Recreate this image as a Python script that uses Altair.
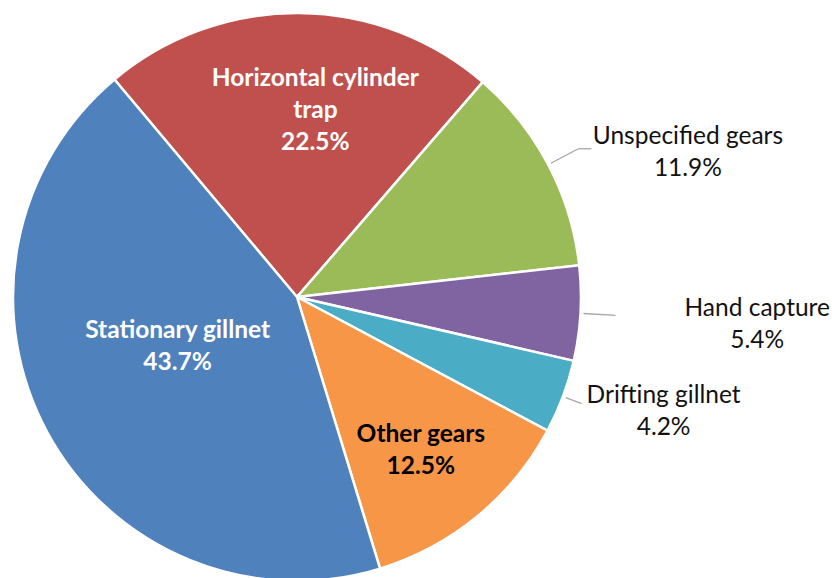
import math
import altair as alt
import pandas as pd

# ---- data ----
categories = ["Horizontal cylinder trap", "Unspecified gears", "Hand capture",
              "Drifting gillnet", "Other gears", "Stationary gillnet"]
shares = [22.5, 11.9, 5.4, 4.2, 12.5, 43.7]
label_names = ["Horizontal cylinder\ntrap", "Unspecified gears", "Hand capture",
               "Drifting gillnet", "Other gears", "Stationary gillnet"]
colors = ["#C0504D", "#9BBB59", "#8064A2", "#4BACC6", "#F79646", "#4F81BD"]

df = pd.DataFrame({
    "category": categories,
    "share": shares,
    "idx": list(range(len(categories))),
    "label": [f"{n}\n{s:.1f}%" for n, s in zip(label_names, shares)],
})

# ---- layout ----
W, H = 824, 570
CX, CY = 289, 289
R = 284
START = math.radians(-40)
FONT = "Lato"
FS = 24.5
LH = 32

label_style = {
    "Horizontal cylinder trap": dict(r=187, dx=17, dy=1 - LH, color="white", weight="bold"),
    "Unspecified gears": dict(r=417, dx=22, dy=50 - LH / 2, color="#111111", weight="normal"),
    "Hand capture": dict(r=468, dx=-7, dy=1 - LH / 2, color="#111111", weight="normal"),
    "Drifting gillnet": dict(r=384, dx=7, dy=-20 - LH / 2, color="#111111", weight="normal"),
    "Other gears": dict(r=198, dx=-2, dy=1 - LH / 2, color="#000000", weight="bold"),
    "Stationary gillnet": dict(r=129, dx=-6, dy=-12 - LH / 2, color="white", weight="bold"),
}
leaders = {
    "Unspecified gears": dict(r1=287, r2=318, tail=13),
    "Hand capture": dict(r1=287, r2=319, tail=0),
    "Drifting gillnet": dict(r1=287, r2=304, tail=0),
}

arcs = alt.Chart(df).mark_arc(radius=R, stroke="white", strokeWidth=2.5).encode(
    theta=alt.Theta("share:Q", stack=True,
                    scale=alt.Scale(range=[START, START + 2 * math.pi])),
    color=alt.Color("category:N", legend=None,
                    scale=alt.Scale(domain=categories, range=colors)),
    order=alt.Order("idx:Q"),
    x=alt.value(CX),
    y=alt.value(CY),
)

base = alt.Chart(df).transform_window(
    cum="sum(share)", sort=[alt.SortField("idx")], frame=[None, 0]
).transform_joinaggregate(total="sum(share)").transform_calculate(
    mid=f"{START} + 2*PI*(datum.cum - datum.share/2)/datum.total"
)

layers = [arcs]
for cat, st in label_style.items():
    t = base.transform_filter(alt.datum.category == cat).transform_calculate(
        tx=f"{CX} + {st['r']}*sin(datum.mid) + {st['dx']}",
        ty=f"{CY} - {st['r']}*cos(datum.mid) + {st['dy']}",
    ).mark_text(
        font=FONT, fontSize=FS, fontWeight=st["weight"], color=st["color"],
        lineBreak="\n", lineHeight=LH, align="center", baseline="middle",
    ).encode(
        x=alt.X("tx:Q", scale=None, axis=None),
        y=alt.Y("ty:Q", scale=None, axis=None),
        text="label:N",
    )
    layers.append(t)

for cat, ld in leaders.items():
    rl = base.transform_filter(alt.datum.category == cat).transform_calculate(
        x1=f"{CX} + {ld['r1']}*sin(datum.mid)",
        y1=f"{CY} - {ld['r1']}*cos(datum.mid)",
        x2=f"{CX} + {ld['r2']}*sin(datum.mid)",
        y2=f"{CY} - {ld['r2']}*cos(datum.mid)",
    )
    layers.append(rl.mark_rule(color="#A6A6A6", strokeWidth=1.3).encode(
        x=alt.X("x1:Q", scale=None, axis=None),
        y=alt.Y("y1:Q", scale=None, axis=None),
        x2="x2:Q", y2="y2:Q",
    ))
    if ld["tail"]:
        layers.append(rl.transform_calculate(x3=f"datum.x2 + {ld['tail']}").mark_rule(
            color="#A6A6A6", strokeWidth=1.3).encode(
            x=alt.X("x2:Q", scale=None, axis=None),
            y=alt.Y("y2:Q", scale=None, axis=None),
            x2="x3:Q", y2="y2:Q",
        ))

chart = alt.layer(*layers).properties(
    width=W, height=H, padding=0, autosize="none"
).configure_view(stroke=None)

chart.save("out.html", embed_options={"renderer": "svg", "actions": False})
